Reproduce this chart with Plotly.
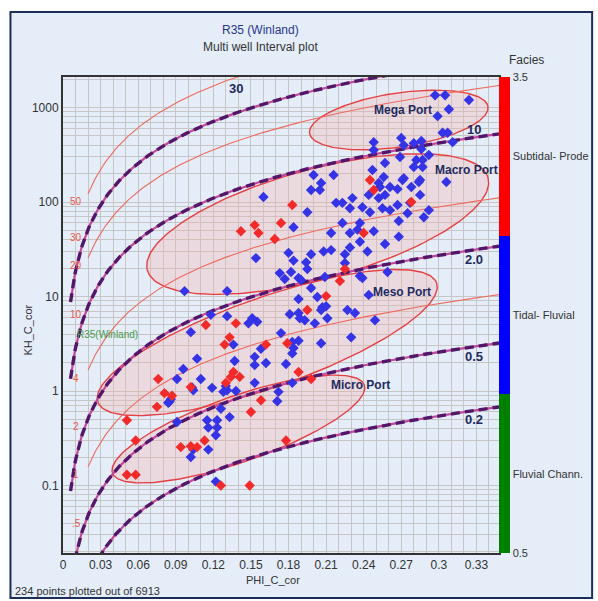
import numpy as np
import plotly.graph_objects as go

# ---------------- data ----------------
# Facies 2 (Tidal- Fluvial) samples
tidal_phi = [0.297, 0.305, 0.324, 0.308, 0.299, 0.303, 0.307, 0.311, 0.248, 0.270, 0.280, 0.286,
             0.248, 0.272, 0.286, 0.269, 0.292, 0.282, 0.287, 0.257, 0.280, 0.287, 0.247, 0.216,
             0.200, 0.256, 0.271, 0.272, 0.285, 0.284, 0.306, 0.206, 0.198, 0.205, 0.252, 0.253,
             0.261, 0.267, 0.278, 0.244, 0.257, 0.285, 0.160, 0.231, 0.252,
             0.195, 0.218, 0.223, 0.229, 0.239, 0.245, 0.255, 0.261, 0.267, 0.275, 0.277, 0.292,
             0.288, 0.268, 0.184, 0.223, 0.237, 0.214, 0.229, 0.235, 0.248, 0.237, 0.257, 0.268,
             0.154, 0.180, 0.184, 0.198, 0.208, 0.214, 0.225, 0.229, 0.243, 0.194, 0.195, 0.173,
             0.182, 0.177, 0.188, 0.190, 0.209, 0.225, 0.237, 0.239, 0.259, 0.198, 0.188, 0.203,
             0.244, 0.207, 0.210, 0.206, 0.181, 0.188, 0.189, 0.193, 0.211, 0.227, 0.233, 0.249,
             0.201, 0.230,
             0.097, 0.131, 0.118, 0.131, 0.151, 0.155, 0.148,
             0.102, 0.174, 0.183, 0.188, 0.184, 0.183, 0.206, 0.136, 0.158, 0.153, 0.153, 0.162,
             0.137, 0.107, 0.096, 0.091, 0.110, 0.178, 0.153, 0.119, 0.130, 0.128, 0.131, 0.104,
             0.103, 0.138, 0.086, 0.084, 0.085, 0.171, 0.172, 0.183, 0.126, 0.133, 0.091, 0.115,
             0.123, 0.116, 0.123, 0.122, 0.104, 0.102, 0.116, 0.122]
tidal_k = [1350, 1350, 1200, 960, 810, 540, 540, 430, 430, 476, 420, 442,
           355, 400, 364, 300, 314, 278, 278, 259, 235, 235, 218, 193,
           193, 184, 171, 179, 171, 163, 163, 159, 134, 134, 159, 144,
           144, 137, 144, 119, 119, 119, 113, 110, 110,
           78, 98, 98, 86, 88, 78, 86, 82, 93, 76, 98, 82,
           69, 63, 54, 60, 60, 47, 47, 51, 49, 38, 36, 43,
           25.5, 29, 24, 28, 30, 31, 28, 33, 30, 23, 19.5, 17.7,
           18.2, 15.3, 15.7, 15, 16.1, 22.6, 16.5, 15.7, 18.2, 12.3, 9.4, 9.9,
           10.4, 7.7, 7.9, 7.2, 6.5, 6.7, 5.9, 5.6, 5.9, 7.2, 6.7, 5.6,
           5.2, 3.7,
           11.4, 11.4, 6.4, 6.2, 5.9, 5.4, 5.2,
           4.2, 4.1, 3.3, 3.4, 2.85, 2.5, 3.2, 3.1, 2.8, 2.3, 1.88, 1.98,
           2.08, 2.2, 1.71, 1.34, 1.34, 1.93, 1.22, 1.08, 1.13, 0.98, 1.02, 1.02,
           1.09, 1.0, 0.82, 0.75, 0.77, 0.78, 0.98, 1.22, 0.65, 0.53, 0.47, 0.49,
           0.49, 0.41, 0.41, 0.34, 0.24, 0.20, 0.24, 0.11]

# Facies 3 (Subtidal- Prodelta) samples
subtidal_phi = [0.245, 0.248, 0.183, 0.278, 0.153, 0.156, 0.174, 0.169, 0.240, 0.225, 0.221,
                0.210, 0.195, 0.133, 0.129, 0.162, 0.179, 0.076, 0.081, 0.087, 0.075, 0.102,
                0.136, 0.134, 0.141, 0.130, 0.188, 0.198, 0.158, 0.150, 0.058, 0.094, 0.102,
                0.107, 0.113, 0.178, 0.058, 0.126, 0.149, 0.051, 0.051, 0.114, 0.138, 0.142]
subtidal_k = [171, 134, 93, 100, 57, 47, 60, 40.6, 47, 19.5, 14.6,
              10.1, 7.2, 3.7, 3.1, 3.1, 3.2, 1.34, 0.95, 0.89, 0.68, 1.10,
              1.59, 1.41, 1.41, 1.22, 1.59, 1.34, 0.80, 0.60, 0.30, 0.255, 0.26,
              0.255, 0.30, 0.30, 0.13, 0.10, 0.10, 0.49, 0.13, 5.0, 5.2, 49]

# R35 (Winland) pore-throat radius iso-lines, microns
r35_main = [30, 10, 2.0, 0.5, 0.2]
r35_main_text = ["30", "10", "2.0", "0.5", "0.2"]
r35_minor = [50, 30, 20, 10, 4, 2, 1, 0.5]
r35_minor_text = ["50", "30", "20", "10", "4", "2", "1", ".5"]

# Port-type envelopes: centre (phi, log10 K) and two half-axis vectors
port_names = ["Mega Port", "Macro Port", "Meso Port", "Micro Port"]
port_center_phi = [0.268, 0.2033, 0.163, 0.140]
port_center_logk = [2.868, 1.767, 0.513, -0.402]
port_axis_a = [(0.0712, 0.1407), (0.1360, 0.4878), (0.1352, 0.6296), (0.1005, 0.4656)]
port_axis_b = [(0.00312, -0.2826), (0.01125, -0.5619), (0.0117, -0.4497), (0.00854, -0.330)]

facies_ticks = [0.5, 1, 2, 3, 3.5]
facies_text = ["0.5", "Fluvial Chann.", "Tidal- Fluvial", "Subtidal- Prode", "3.5"]

n_plotted, n_total = 234, 6913

# ---------------- helpers ----------------
def winland_logk(r35, phi):
    """log10 K from Winland: log R35 = 0.732 + 0.588 log K - 0.864 log phi(%)."""
    return (np.log10(r35) - 0.732 + 0.864 * np.log10(np.asarray(phi) * 100.0)) / 0.588


FONT = "Liberation Sans, Arial, sans-serif"
NAVY = "#1f2b5e"
TXT = "#333333"
X_MAX = 0.348
Y_LOG = [-1.714, 3.323]

fig = go.Figure()

# port envelopes
t = np.linspace(0, 2 * np.pi, 240)
for cx, cy, a, b in zip(port_center_phi, port_center_logk, port_axis_a, port_axis_b):
    ex = cx + a[0] * np.cos(t) + b[0] * np.sin(t)
    ey = cy + a[1] * np.cos(t) + b[1] * np.sin(t)
    fig.add_trace(go.Scatter(x=ex, y=10 ** ey, mode="lines", fill="toself",
                             fillcolor="rgba(250,175,170,0.30)",
                             line=dict(color="#e63f42", width=1.4),
                             hoverinfo="skip", showlegend=False))

# thin R35 iso-lines
phi_thin = np.linspace(0.02, X_MAX, 300)
for r in r35_minor:
    fig.add_trace(go.Scatter(x=phi_thin, y=10 ** winland_logk(r, phi_thin), mode="lines",
                             line=dict(color="#ee6a5e", width=1.1),
                             hoverinfo="skip", showlegend=False))

# main R35 iso-lines (two-tone dashed)
phi_main = np.linspace(0.006, X_MAX, 400)
for r in r35_main:
    yk = 10 ** winland_logk(r, phi_main)
    fig.add_trace(go.Scatter(x=phi_main, y=yk, mode="lines",
                             line=dict(color="#c4489a", width=2.2),
                             hoverinfo="skip", showlegend=False))
    fig.add_trace(go.Scatter(x=phi_main, y=yk, mode="lines",
                             line=dict(color="#52176a", width=3.4, dash="9px,5px"),
                             hoverinfo="skip", showlegend=False))

# samples
fig.add_trace(go.Scatter(x=tidal_phi, y=tidal_k, mode="markers",
                         marker=dict(symbol="diamond", size=8, color="#3434e6"),
                         showlegend=False))
fig.add_trace(go.Scatter(x=subtidal_phi, y=subtidal_k, mode="markers",
                         marker=dict(symbol="diamond", size=8, color="#f22a2a"),
                         showlegend=False))

# facies colour bar
fig.add_trace(go.Scatter(
    x=[None], y=[None], mode="markers", showlegend=False,
    marker=dict(color=[2], cmin=0.5, cmax=3.5, showscale=True,
                colorscale=[[0, "#008000"], [1 / 3, "#008000"], [1 / 3, "#0000ff"],
                            [2 / 3, "#0000ff"], [2 / 3, "#ff0000"], [1, "#ff0000"]],
                colorbar=dict(thickness=11, len=1, lenmode="fraction", y=0.5, yanchor="middle",
                              x=1.0, xanchor="left", xpad=0, ypad=0, outlinewidth=0,
                              tickvals=facies_ticks, ticktext=facies_text, ticks="",
                              tickfont=dict(family=FONT, size=11, color=TXT))),
))

ann = []
# labels of the main iso-lines near the right edge
for r, txt, dy in zip(r35_main[1:], r35_main_text[1:], [0.08, -0.1, -0.1, -0.1]):
    ann.append(dict(x=0.328, y=float(winland_logk(r, 0.328)) + dy, text=f"<b>{txt}</b>",
                    showarrow=False, font=dict(family=FONT, size=13, color=NAVY)))
ann.append(dict(x=0.1377, y=3.206, text="<b>30</b>", showarrow=False,
                font=dict(family=FONT, size=13, color=NAVY)))
# labels of the thin iso-lines at their left ends
for r, txt in zip(r35_minor, r35_minor_text):
    ann.append(dict(x=0.0105, y=float(winland_logk(r, 0.02)) - 0.085, text=txt, showarrow=False,
                    font=dict(family=FONT, size=10, color="#e8584a")))
ann.append(dict(x=0.0356, y=0.593, text="R35(Winland)", showarrow=False,
                font=dict(family=FONT, size=10, color="#4c9a4c")))
# port names
port_label_phi = [0.2714, 0.322, 0.2706, 0.2373]
port_label_logk = [2.974, 2.339, 1.048, 0.063]
for name, px, py in zip(port_names, port_label_phi, port_label_logk):
    ann.append(dict(x=px, y=py, text=f"<b>{name}</b>", showarrow=False,
                    font=dict(family=FONT, size=12, color=NAVY)))

# titles and captions (paper coordinates)
def paper_text(x, y, text, size=12, color=TXT, xanchor="center", **kw):
    return dict(x=x, y=y, xref="paper", yref="paper", text=text, showarrow=False,
                xanchor=xanchor, yanchor="middle",
                font=dict(family=FONT, size=size, color=color), **kw)

ann += [
    paper_text(0.452, 1.099, "R35 (Winland)", color="#2a3590"),
    paper_text(0.452, 1.063, "Multi well Interval plot"),
    paper_text(1.064, 1.0357, "Facies"),
    paper_text(-0.0795, 0.468, "KH_C_cor", size=11, textangle=-90),
    paper_text(0.482, -0.0567, "PHI_C_cor", size=11),
    paper_text(-0.1136, -0.0798, f"{n_plotted} points plotted out of {n_total}", size=11,
               xanchor="left"),
]

minor_y = [m * 10.0 ** d for d in range(-2, 4) for m in range(2, 10)]

fig.update_layout(
    width=598, height=601,
    margin=dict(l=63, r=95, t=77, b=48),
    paper_bgcolor="white", plot_bgcolor="white",
    annotations=ann,
    shapes=[dict(type="rect", xref="paper", yref="paper", x0=-0.1205, x1=1.2136,
                 y0=-0.0945, y1=1.1366, line=dict(color="#1c2d5a", width=2),
                 fillcolor="#e4edf8", layer="below")],
    xaxis=dict(range=[0, X_MAX], tick0=0, dtick=0.03, showgrid=True, gridcolor="#c6c6c6",
               gridwidth=1, zeroline=False, ticks="", showline=True, linecolor=TXT,
               linewidth=2, mirror=True,
               minor=dict(dtick=0.01, showgrid=True, gridcolor="#c6c6c6", gridwidth=1),
               tickfont=dict(family=FONT, size=12, color=TXT)),
    yaxis=dict(type="log", range=Y_LOG, tickvals=[0.1, 1, 10, 100, 1000],
               ticktext=["0.1", "1", "10", "100", "1000"], showgrid=True, gridcolor="#c6c6c6",
               zeroline=False, ticks="", showline=True, linecolor=TXT, linewidth=2,
               mirror=True,
               minor=dict(tickvals=minor_y, showgrid=True, gridcolor="#c6c6c6", gridwidth=1),
               tickfont=dict(family=FONT, size=12, color=TXT)),
)

fig.write_html("out.html")
